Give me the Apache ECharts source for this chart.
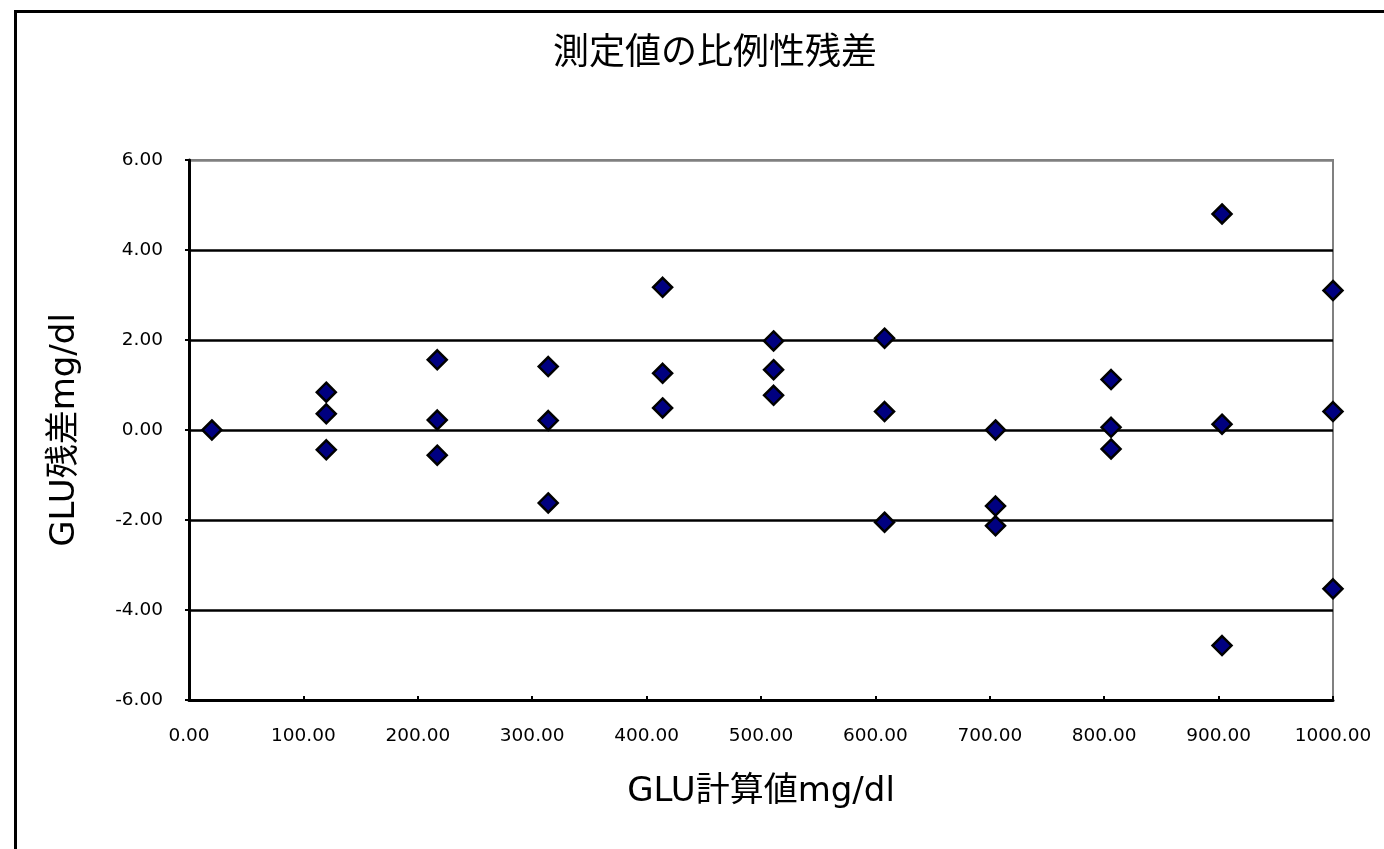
<!DOCTYPE html>
<html>
<head>
<meta charset="utf-8">
<script src="https://cdn.jsdelivr.net/npm/echarts@6/dist/echarts.min.js"></script>
<style>html,body{margin:0;padding:0;background:#fff;}#c{width:1384px;height:849px;}</style>
</head>
<body>
<div id="c"></div>
<script>
// GLU calculated values (mg/dl)
const calcValues = [20, 120, 217, 314, 414, 511, 608, 705, 806, 903, 1000];
// residuals (mg/dl) at each calculated value
const residuals = [
  [0.00],
  [0.84, 0.36, -0.44],
  [1.56, 0.22, -0.56],
  [1.41, 0.21, -1.62],
  [3.17, 1.26, 0.49],
  [1.98, 1.34, 0.77],
  [2.04, 0.41, -2.05],
  [0.00, -1.69, -2.13],
  [1.12, 0.06, -0.42],
  [4.80, 0.13, -4.79],
  [3.10, 0.41, -3.53]
];
const titleText = '測定値の比例性残差';
const xName = 'GLU計算値mg/dl';
const yName = 'GLU残差mg/dl';

const points = [];
calcValues.forEach((x, i) => residuals[i].forEach(r => points.push([x, r])));

const nameFont = 'DejaVu Sans, Noto Sans CJK JP';
const chart = echarts.init(document.getElementById('c'), null, {renderer: 'canvas'});
chart.setOption({
  backgroundColor: '#fff',
  animation: false,
  title: {
    text: titleText,
    left: 710, top: 27,
    textAlign: 'center',
    textStyle: {fontFamily: 'Noto Sans CJK JP', fontSize: 36, fontWeight: 'normal', color: '#000'}
  },
  graphic: [{
    type: 'rect', left: 13, top: 9, silent: true,
    shape: {x: 0, y: 0, width: 1400, height: 900},
    style: {fill: 'none', stroke: '#000', lineWidth: 3}
  }],
  grid: {left: 189, top: 160, right: 51, bottom: 149, show: true, borderColor: '#808080', borderWidth: 2, backgroundColor: 'transparent'},
  xAxis: {
    type: 'value', min: 0, max: 1000, interval: 100,
    name: xName, nameLocation: 'middle', nameGap: 75,
    nameTextStyle: {fontFamily: nameFont, fontSize: 34, color: '#000'},
    axisLine: {show: true, onZero: false, lineStyle: {color: '#000', width: 3}},
    axisTick: {show: true, inside: true, length: 4, lineStyle: {color: '#000', width: 2}},
    axisLabel: {margin: 27, fontFamily: 'DejaVu Sans', fontSize: 18.5, color: '#000', formatter: v => v.toFixed(2)},
    splitLine: {show: false}
  },
  yAxis: {
    type: 'value', min: -6, max: 6, interval: 2,
    name: yName, nameLocation: 'middle', nameGap: 107, nameRotate: 90,
    nameTextStyle: {fontFamily: nameFont, fontSize: 34, color: '#000'},
    axisLine: {show: true, onZero: false, lineStyle: {color: '#000', width: 3}},
    axisTick: {show: true, inside: false, length: 4, lineStyle: {color: '#000', width: 2}},
    axisLabel: {margin: 26, fontFamily: 'DejaVu Sans', fontSize: 18.5, color: '#000', formatter: v => v.toFixed(2)},
    splitLine: {show: true, lineStyle: {color: ['#000', '#000', '#000', '#000', '#000', '#000', '#808080'], width: 2.5}}
  },
  series: [{
    type: 'scatter',
    data: points,
    symbol: 'diamond',
    symbolSize: 19,
    clip: false,
    itemStyle: {color: '#000080', borderColor: '#000', borderWidth: 2.5, opacity: 1}
  }]
});
</script>
</body>
</html>
